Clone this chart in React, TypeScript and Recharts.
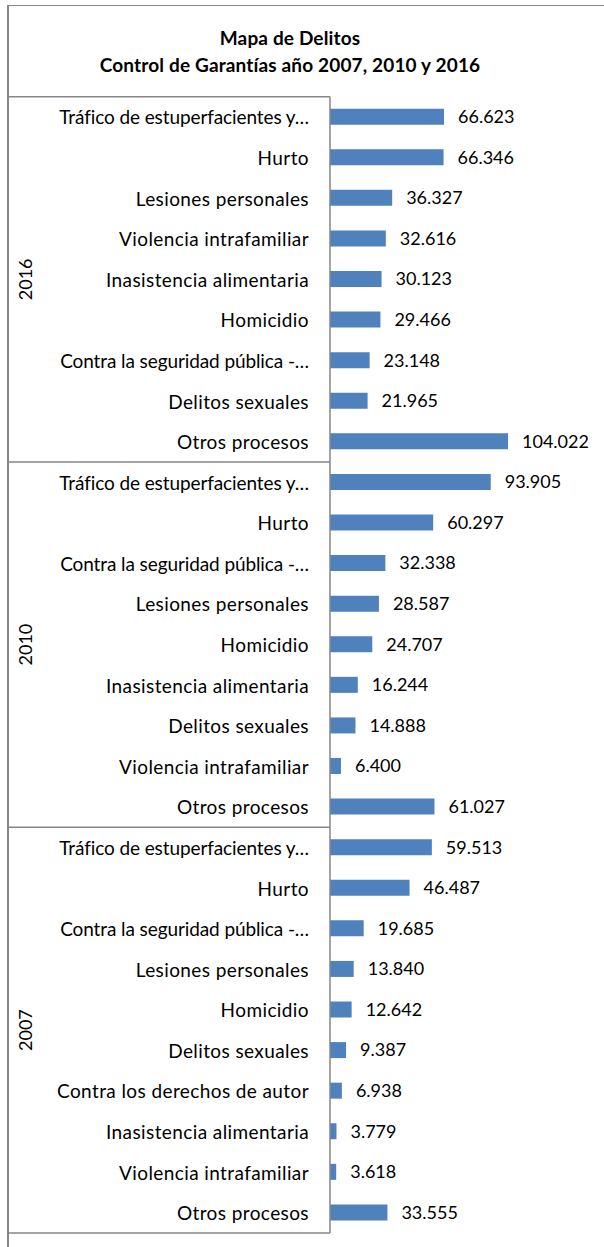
import React from 'react';
import { BarChart, Bar, XAxis, YAxis, LabelList } from 'recharts';

const years = ['2016', '2010', '2007'];

const crimes2016 = [
  'Tráfico de estuperfacientes y…',
  'Hurto',
  'Lesiones personales',
  'Violencia intrafamiliar',
  'Inasistencia alimentaria',
  'Homicidio',
  'Contra la seguridad pública -…',
  'Delitos sexuales',
  'Otros procesos',
];
const values2016 = [66623, 66346, 36327, 32616, 30123, 29466, 23148, 21965, 104022];

const crimes2010 = [
  'Tráfico de estuperfacientes y…',
  'Hurto',
  'Contra la seguridad pública -…',
  'Lesiones personales',
  'Homicidio',
  'Inasistencia alimentaria',
  'Delitos sexuales',
  'Violencia intrafamiliar',
  'Otros procesos',
];
const values2010 = [93905, 60297, 32338, 28587, 24707, 16244, 14888, 6400, 61027];

const crimes2007 = [
  'Tráfico de estuperfacientes y…',
  'Hurto',
  'Contra la seguridad pública -…',
  'Lesiones personales',
  'Homicidio',
  'Delitos sexuales',
  'Contra los derechos de autor',
  'Inasistencia alimentaria',
  'Violencia intrafamiliar',
  'Otros procesos',
];
const values2007 = [59513, 46487, 19685, 13840, 12642, 9387, 6938, 3779, 3618, 33555];

const groups = [
  { year: years[0], names: crimes2016, values: values2016 },
  { year: years[1], names: crimes2010, values: values2010 },
  { year: years[2], names: crimes2007, values: values2007 },
];

type Row = { key: string; name: string; value: number; year: string; pos: number; count: number; last: boolean };

const data: Row[] = groups.flatMap((g, gi) =>
  g.names.map((name, i) => ({
    key: `${g.year}-${i}`,
    name,
    value: g.values[i],
    year: g.year,
    pos: i,
    count: g.names.length,
    last: gi === groups.length - 1 && i === g.names.length - 1,
  }))
);

const FONT = 'Lato, "Open Sans", sans-serif';
const GRID = '#868686';
const W = 604;
const H = 1247;
const M = { top: 96.7, right: 68.6, bottom: 14, left: 8 };
const ROW_H = (H - M.top - M.bottom) / data.length;

const fmt = (v: any) => String(v).replace(/\B(?=(\d{3})+(?!\d))/g, '.');

const CategoryTick = (props: any) => {
  const { x, y, payload } = props;
  const row = data[payload.index];
  if (!row) return null;
  const half = payload.offset || ROW_H / 2;
  const mid = Math.floor((row.count - 1) / 2);
  const yearY = row.count % 2 === 0 ? y + half : y;
  // truncated labels: tighter, as the source font draws the ellipsis narrow
  const cut = row.name.endsWith('…');
  return (
    <g>
      <text
        x={x - 21}
        y={y}
        textAnchor="end"
        dominantBaseline="central"
        fontSize={19}
        letterSpacing={cut ? -0.1 : 0.4}
        fill="#000"
        fontFamily={FONT}
      >
        {row.name}
      </text>
      {row.pos === 0 && <line x1={M.left} x2={x} y1={y - half} y2={y - half} stroke={GRID} strokeWidth={1.5} />}
      {row.last && <line x1={M.left} x2={x} y1={y + half} y2={y + half} stroke={GRID} strokeWidth={1.5} />}
      {row.pos === mid && (
        <text
          x={25}
          y={yearY}
          textAnchor="middle"
          dominantBaseline="central"
          fontSize={18}
          fill="#000"
          fontFamily={FONT}
          transform={`rotate(-90 25 ${yearY})`}
        >
          {row.year}
        </text>
      )}
    </g>
  );
};

export default function App() {
  return (
    <div style={{ position: 'absolute', left: 0, top: 0, width: W, height: H, overflow: 'hidden', background: '#fff' }}>
      <div
        style={{
          position: 'absolute',
          left: 7,
          top: 5,
          width: 640,
          height: 1280,
          borderTop: `1.5px solid ${GRID}`,
          borderLeft: `2px solid ${GRID}`,
        }}
      />
      <div
        style={{
          position: 'absolute',
          left: 0,
          width: 580,
          top: 24,
          textAlign: 'center',
          fontFamily: FONT,
          fontWeight: 700,
          fontSize: 19,
          letterSpacing: 0.15,
          lineHeight: '27px',
          color: '#000',
        }}
      >
        <div>Mapa de Delitos</div>
        <div>Control de Garantías año 2007, 2010 y 2016</div>
      </div>
      <div style={{ position: 'absolute', left: 0, top: 0 }}>
        <BarChart width={W} height={H} data={data} layout="vertical" margin={M}>
          <XAxis type="number" domain={[0, 120000]} hide />
          <YAxis
            type="category"
            dataKey="key"
            width={330 - M.left}
            interval={0}
            tickLine={false}
            tickSize={0}
            tickMargin={0}
            axisLine={{ stroke: GRID, strokeWidth: 1.5 }}
            tick={<CategoryTick />}
          />
          <Bar dataKey="value" fill="#4F81BD" barSize={16} isAnimationActive={false}>
            <LabelList
              dataKey="value"
              position="right"
              offset={14}
              formatter={fmt}
              fill="#000"
              fontSize={18}
              fontFamily={FONT}
            />
          </Bar>
        </BarChart>
      </div>
    </div>
  );
}
